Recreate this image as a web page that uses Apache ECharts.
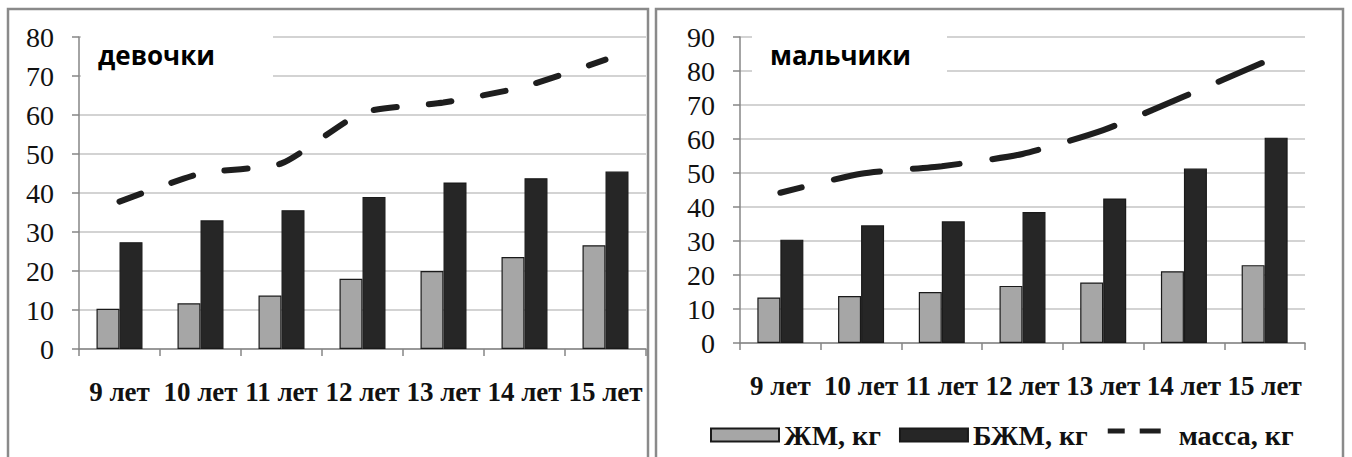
<!DOCTYPE html>
<html>
<head>
<meta charset="utf-8">
<script src="https://cdn.jsdelivr.net/npm/echarts@6/dist/echarts.min.js"></script>
<style>
  html, body { margin: 0; padding: 0; background: #fff; }
  #chart { width: 1352px; height: 457px; }
</style>
</head>
<body>
<div id="chart"></div>
<script>
// ---- data ----
const categories = ['9 лет', '10 лет', '11 лет', '12 лет', '13 лет', '14 лет', '15 лет'];
const seriesNames = ['ЖМ, кг', 'БЖМ, кг', 'масса, кг'];
const panelTitles = ['девочки', 'мальчики'];

const girlsFat  = [10.3, 11.7, 13.7, 18.0, 20.0, 23.6, 26.6];
const girlsLean = [27.4, 33.0, 35.6, 39.0, 42.7, 43.8, 45.5];
const girlsMass = [37.8, 45.0, 47.6, 60.6, 63.2, 67.3, 74.2];

const boysFat  = [13.4, 13.8, 15.0, 16.8, 17.8, 21.1, 22.9];
const boysLean = [30.4, 34.6, 35.8, 38.5, 42.5, 51.3, 60.4];
const boysMass = [44.2, 49.8, 52.0, 55.6, 62.6, 72.5, 82.7];

const girlsYMax = 80;
const boysYMax = 90;
const yInterval = 10;

// ---- styles ----
const SERIF = '"Liberation Serif", "Times New Roman", serif';
const SANS = '"Open Sans", "Noto Sans", sans-serif';
const AXIS_GRAY = '#868686';
const GRID_GRAY = '#c4c4c4';
const FAT_COLOR = '#a6a6a6';
const LEAN_COLOR = '#262626';
const MASS_COLOR = '#1e1e1e';

const chart = echarts.init(document.getElementById('chart'), null, { renderer: 'svg' });

function xAxisFor(gridIndex) {
  return {
    type: 'category',
    gridIndex: gridIndex,
    data: categories,
    boundaryGap: true,
    axisLine: { show: true, lineStyle: { color: AXIS_GRAY, width: 1.5 } },
    axisTick: { show: true, length: 7, interval: 0, lineStyle: { color: AXIS_GRAY, width: 1.5 } },
    axisLabel: {
      interval: 0, margin: 29,
      fontFamily: SERIF, fontWeight: 'bold', fontSize: 27, color: '#111'
    },
    splitLine: { show: false }
  };
}
function yAxisFor(gridIndex, max) {
  return {
    type: 'value',
    gridIndex: gridIndex,
    min: 0, max: max, interval: yInterval,
    axisLine: { show: true, lineStyle: { color: AXIS_GRAY, width: 1.5 } },
    axisTick: { show: true, length: 7, lineStyle: { color: AXIS_GRAY, width: 1.5 } },
    axisLabel: { margin: 25, fontFamily: SERIF, fontSize: 28, color: '#111' },
    splitLine: { show: true, lineStyle: { color: GRID_GRAY, width: 1.5 } }
  };
}
function barSeries(name, data, idx, color) {
  return {
    name: name, type: 'bar',
    xAxisIndex: idx, yAxisIndex: idx,
    data: data,
    barWidth: 23, barGap: '0%',
    itemStyle: { color: color, borderColor: '#1a1a1a', borderWidth: 1.2 },
    z: 3
  };
}
function lineSeries(name, data, idx, dash, offset) {
  return {
    name: name, type: 'line',
    xAxisIndex: idx, yAxisIndex: idx,
    data: data,
    symbol: 'none', smooth: 0.2,
    lineStyle: { color: MASS_COLOR, width: 6, type: dash, dashOffset: offset, cap: 'round' },
    itemStyle: { color: MASS_COLOR },
    z: 4
  };
}

const option = {
  animation: false,
  backgroundColor: '#fff',
  grid: [
    { left: 79, top: 37, width: 567, height: 312 },
    { left: 740, top: 37, width: 565, height: 306 }
  ],
  xAxis: [xAxisFor(0), xAxisFor(1)],
  yAxis: [yAxisFor(0, girlsYMax), yAxisFor(1, boysYMax)],
  legend: {
    left: 710, top: 421, padding: 0,
    itemWidth: 68, itemHeight: 13, itemGap: 18,
    textStyle: { fontFamily: SERIF, fontWeight: 'bold', fontSize: 28, lineHeight: 28, color: '#111' },
    data: [
      { name: seriesNames[0], icon: 'rect' },
      { name: seriesNames[1], icon: 'rect' },
      { name: seriesNames[2], icon: 'path://M0,0h0.01v0.01h-0.01z M68,13h0.01v0.01h-0.01z M2,0h17v5h-17z M34,0h21v5h-21z' }
    ]
  },
  graphic: [
    { type: 'rect', z: 0, silent: true, shape: { x: 8, y: 9, width: 640, height: 470 },
      style: { fill: 'none', stroke: '#8a8a8a', lineWidth: 2.5 } },
    { type: 'rect', z: 0, silent: true, shape: { x: 656, y: 9, width: 687, height: 470 },
      style: { fill: 'none', stroke: '#8a8a8a', lineWidth: 2.5 } },
    { type: 'rect', z: 50, silent: true, shape: { x: 81, y: 30, width: 192, height: 54 },
      style: { fill: '#fff' } },
    { type: 'rect', z: 50, silent: true, shape: { x: 752, y: 30, width: 195, height: 50 },
      style: { fill: '#fff' } },
    { type: 'text', z: 51, left: 98, top: 42, silent: true,
      style: { text: panelTitles[0], font: 'bold 26px ' + SANS, fill: '#000' } },
    { type: 'text', z: 51, left: 770, top: 42, silent: true,
      style: { text: panelTitles[1], font: 'bold 26px ' + SANS, fill: '#000' } }
  ],
  series: [
    barSeries(seriesNames[0], girlsFat, 0, FAT_COLOR),
    barSeries(seriesNames[1], girlsLean, 0, LEAN_COLOR),
    lineSeries(seriesNames[2], girlsMass, 0, [23, 32], 0),
    barSeries(seriesNames[0], boysFat, 1, FAT_COLOR),
    barSeries(seriesNames[1], boysLean, 1, LEAN_COLOR),
    lineSeries(seriesNames[2], boysMass, 1, [47, 33], 25)
  ]
};
chart.setOption(option);
</script>
</body>
</html>
